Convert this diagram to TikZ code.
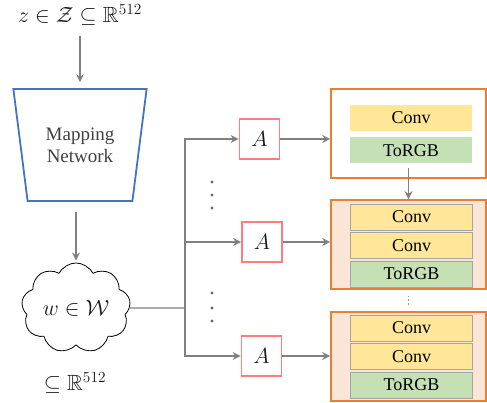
\RequirePackage{fix-cm}
\documentclass[tikz,border=0pt]{standalone}
\usepackage{amsmath}
\usepackage{amssymb}
\usepackage{fontspec}
\setmainfont{Liberation Serif}
\usepackage{xcolor}
\usetikzlibrary{arrows.meta, positioning, shapes.geometric, shapes.symbols}

\definecolor{arrgrey}{HTML}{808080}
\definecolor{mapblue}{HTML}{4472C4}
\definecolor{ared}{HTML}{FF7C80}
\definecolor{blkorange}{HTML}{ED7D31}
\definecolor{blkfill}{HTML}{FBE5D6}
\definecolor{convyellow}{HTML}{FFE699}
\definecolor{rgbgreen}{HTML}{C5E0B4}
\definecolor{bargrey}{HTML}{A5A5A5}
\definecolor{txtgrey}{HTML}{404040}

\begin{document}
\begin{tikzpicture}[
  x=1pt, y=-1pt,
  font=\fontsize{18}{21}\selectfont,
  math/.style={font=\fontsize{22}{26}\selectfont, text=black!90},
  arr/.style={-{Stealth[length=8pt, width=8pt]}, draw=arrgrey, line width=1.3pt},
  line/.style={draw=arrgrey, line width=1.3pt},
  mapnet/.style={trapezium, trapezium stretches=true, trapezium angle=75,
                 shape border rotate=180, draw=mapblue, line width=1.8pt,
                 minimum width=134, minimum height=112, align=center,
                 text=txtgrey, inner sep=0pt, font=\fontsize{19}{22}\selectfont},
  lat/.style={cloud, cloud puffs=9, cloud puff arc=125, aspect=1.25, draw,
              line width=0.8pt, minimum width=109, minimum height=87, inner sep=0pt},
  abox/.style={draw=ared, line width=1.8pt, minimum size=40, inner sep=0pt, fill=white},
  blk/.style={draw=blkorange, line width=1.6pt, minimum width=155,
              minimum height=89, inner sep=0pt},
  bar/.style={minimum width=122, minimum height=26, inner sep=0pt},
  conv/.style={bar, fill=convyellow},
  rgb/.style={bar, fill=rgbgreen},
  dot/.style={fill=txtgrey!80}
]
\useasboundingbox (0,0) rectangle (487,402);

\node[math, inner sep=0pt] (z) at (80,15) {$z\in\mathcal{Z}\subseteq\mathbb{R}^{512}$};
\node[mapnet] (map) at (80,145) {Mapping\\ Network};
\node[lat, math] (w) at (76,308) {$w\in\mathcal{W}$};
\node[math] (wr) at (75,383) {$\subseteq\mathbb{R}^{512}$};

\node[abox, math] (a1) at (259.5,139) {$A$};
\node[abox, math] (a2) at (262,242) {$A$};
\node[abox, math] (a3) at (261.5,356) {$A$};

\node[blk, fill=white] (b1) at (408.5,133.5) {};
\node[blk, fill=blkfill] (b2) at (408.5,244.5) {};
\node[blk, fill=blkfill] (b3) at (408.5,356.5) {};

\node[conv] (c1) at (411,118) {Conv};
\node[rgb, below=6pt of c1] (t1) {ToRGB};

\node[conv, draw=bargrey] (c2a) at (411.5,217) {Conv};
\node[conv, draw=bargrey, below=2pt of c2a] (c2b) {Conv};
\node[rgb, draw=bargrey, below=2pt of c2b] (t2) {ToRGB};

\node[conv, draw=bargrey] (c3a) at (411.5,328) {Conv};
\node[conv, draw=bargrey, below=2pt of c3a] (c3b) {Conv};
\node[rgb, draw=bargrey, below=2pt of c3b] (t3) {ToRGB};

\coordinate (br) at (185,308);

\draw[arr, shorten <=10pt, shorten >=6pt] (z.south -| map.north) -- (map.north);
\draw[arr, shorten <=10pt, shorten >=2pt] (w.north |- map.south) -- (w.north);
\draw[line] (w.east) -- (br);
\draw[arr] (br) |- (a1.west);
\draw[arr] (br) |- (a2.west);
\draw[arr] (br) |- (a3.west);
\draw[arr] (a1.east) -- (a1.east -| b1.west);
\draw[arr] (a2.east) -- (a2.east -| b2.west);
\draw[arr] (a3.east) -- (a3.east -| b3.west);
\draw[arr, shorten <=4pt] (t1.south -| b1.south) -- (b2.north);
\draw[blkorange, line width=1.6pt, dotted, shorten <=6pt, shorten >=5pt] (b2.south) -- (b3.north);

\foreach \y in {182,195,208,293,308,321}
  \fill[dot] (212,\y) circle (1.7);
\end{tikzpicture}
\end{document}
